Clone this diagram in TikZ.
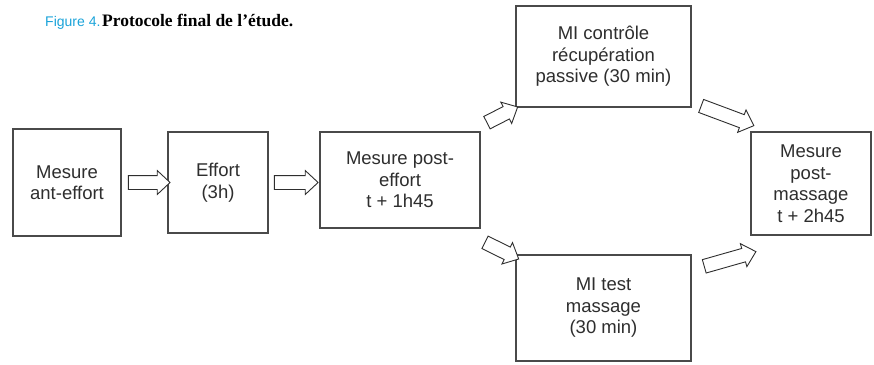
\documentclass[tikz,border=0pt]{standalone}
\usepackage{fontspec}
\setmainfont{Liberation Sans}
\newfontfamily\captionserif{Liberation Serif}
\usetikzlibrary{shapes.arrows,calc}

\definecolor{figblue}{HTML}{1AA3D9}
\definecolor{boxline}{HTML}{4A4A4A}
\definecolor{boxtext}{HTML}{2E2E2E}

\tikzset{
  stage/.style={draw=boxline, line width=1.3pt, fill=white, align=center,
    text=boxtext, inner sep=0pt, font=\fontsize{18.5}{21.5}\selectfont},
  barrow/.style={single arrow, draw=boxtext, line width=0.9pt, fill=white,
    inner xsep=0pt, inner ysep=6.5pt, single arrow head extend=5pt,
    single arrow tip angle=86, anchor=center}
}

% block arrow between two points, pointing from #1 to #2
\newcommand\blockarrow[2]{%
  \path let \p1=(#1), \p2=(#2),
    \n1={atan2(\y2-\y1,\x2-\x1)}, \n2={veclen(\x2-\x1,\y2-\y1)} in
    node[barrow, minimum height=\n2, rotate=\n1] at ($(\p1)!0.5!(\p2)$) {};}

\begin{document}
\begin{tikzpicture}[x=1pt, y=-1pt]
  \useasboundingbox (0,0) rectangle (874,364);

  % caption
  \node[anchor=base west, inner sep=0pt] (caption) at (45,26)
    {{\fontsize{14}{15}\selectfont\color{figblue}Figure 4.}\,%
     {\captionserif\bfseries\fontsize{17.5}{20}\selectfont Protocole final de l’étude.}};

  % stages
  \node[stage, minimum width=108pt, minimum height=107pt] (pre)  at (67,182.5)  {Mesure\\ant-effort};
  \node[stage, minimum width=100pt, minimum height=101pt] (eff)  at (218,182.5) {Effort\\(3h)};
  \node[stage, minimum width=160pt, minimum height=96pt]  (post) at (400,180)   {Mesure post-\\effort\\t + 1h45};
  \node[stage, minimum width=175pt, minimum height=101pt] (ctrl) at (603.5,56.5) {MI contrôle\\récupération\\passive (30 min)};
  \node[stage, minimum width=175pt, minimum height=106pt] (mass) at (603.5,308)  {MI test\\massage\\(30 min)};
  \node[stage, minimum width=120pt, minimum height=103pt] (fin)  at (811,183.5)  {Mesure\\post-\\massage\\t + 2h45};

  % arrow end points
  \coordinate (a1s) at ($(pre.east)+(3,0)$);
  \coordinate (a1e) at ($(eff.west)+(-1,0)$);
  \coordinate (a2s) at ($(eff.east)+(2,0)$);
  \coordinate (a2e) at ($(post.west |- eff.east)+(-5,0)$);
  \coordinate (a3s) at ($(post.north east)+(3,-7)$);
  \coordinate (a3e) at ($(ctrl.south west)+(-1,1)$);
  \coordinate (a4s) at ($(post.south east)+(1,12)$);
  \coordinate (a4e) at ($(mass.north west)+(0,3)$);
  \coordinate (a5s) at ($(ctrl.south east)+(6,-3)$);
  \coordinate (a5e) at ($(fin.north west)+(0,-7)$);
  \coordinate (a6s) at ($(mass.north east)+(9,13)$);
  \coordinate (a6e) at ($(fin.south west)+(2,17)$);

  % block arrows
  \blockarrow{a1s}{a1e}
  \blockarrow{a2s}{a2e}
  \blockarrow{a3s}{a3e}
  \blockarrow{a4s}{a4e}
  \blockarrow{a5s}{a5e}
  \blockarrow{a6s}{a6e}
\end{tikzpicture}
\end{document}
